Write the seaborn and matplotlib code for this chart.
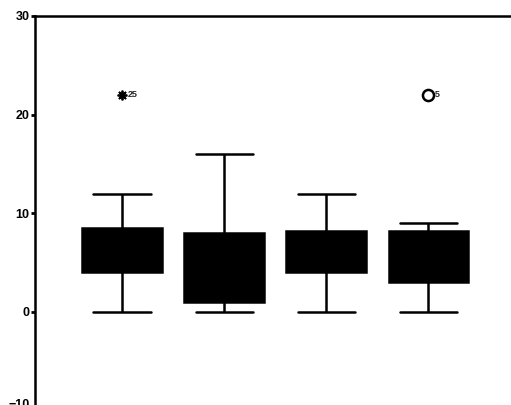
import numpy as np
import pandas as pd
import matplotlib
matplotlib.use('Agg')
import matplotlib.pyplot as plt
import matplotlib.transforms as mtransforms
import seaborn as sns

# box summaries: min, q1, median, q3, max
groups = ["A", "B", "C", "D"]
box_values = {
    "A": [0, 4, 6, 8.5, 12],
    "B": [0, 1, 5, 8, 16],
    "C": [0, 4, 6, 8.2, 12],
    "D": [0, 3, 6, 8.2, 9],
}
# outlying cases (group, value, case label, kind)
out_groups = ["A", "D"]
out_values = [22, 22]
out_labels = ["25", "5"]
out_kinds = ["extreme", "outlier"]
yticks = [-10, 0, 10, 20, 30]

rows = [(g, v) for g in groups for v in box_values[g]]
df = pd.DataFrame(rows, columns=["group", "value"])

sns.set_style("white")
plt.rcParams['font.family'] = ['Liberation Sans', 'DejaVu Sans']

fig = plt.figure(figsize=(5.11, 4.05), dpi=100)
ax = fig.add_axes([35 / 511, -5.5 / 405, 1 - 35 / 511, 394.5 / 405])

sns.boxplot(data=df, x="group", y="value", order=groups, ax=ax,
            color="black", width=0.78, whis=np.inf, showfliers=False,
            linewidth=1.8, linecolor="black", capwidths=0.56,
            boxprops=dict(facecolor="black", edgecolor="black"),
            capprops=dict(linewidth=1.8), whiskerprops=dict(linewidth=1.8))

pos = {g: i for i, g in enumerate(groups)}
for g, v, lab, kind in zip(out_groups, out_values, out_labels, out_kinds):
    x = pos[g]
    if kind == "extreme":
        ax.plot(x, v, marker=(8, 2, 0), markersize=7, mew=1.3, color="black")
        dx = 0.055
    else:
        ax.plot(x, v, marker="o", markersize=8, mfc="white", mec="black", mew=1.8)
        dx = 0.065
    ax.text(x + dx, v, lab, fontsize=6.5, fontweight="bold", va="center", ha="left")

ax.set_xlim(-0.853, 3.81)
ax.set_ylim(-10, 30)
ax.set_yticks(yticks)
ax.set_yticklabels([str(t).replace("-", "\u2212") for t in yticks], fontsize=9, fontweight="bold")
ax.set_xticks([])
ax.set_xlabel("")
ax.set_ylabel("")
ax.tick_params(axis="y", direction="out", length=3, width=2, pad=1, left=True, colors="black")

# the bottom label sits a little higher in the scan, only its top shows
lowest = ax.get_yticklabels()[0]
lowest.set_transform(lowest.get_transform() + mtransforms.ScaledTranslation(0, 7 / 100, fig.dpi_scale_trans))

for side in ["left", "top"]:
    ax.spines[side].set_visible(True)
    ax.spines[side].set_color("black")
    ax.spines[side].set_linewidth(1.8)
ax.spines["right"].set_visible(False)
ax.spines["bottom"].set_visible(False)

fig.savefig("out.png", dpi=100, facecolor="white")
plt.close(fig)
